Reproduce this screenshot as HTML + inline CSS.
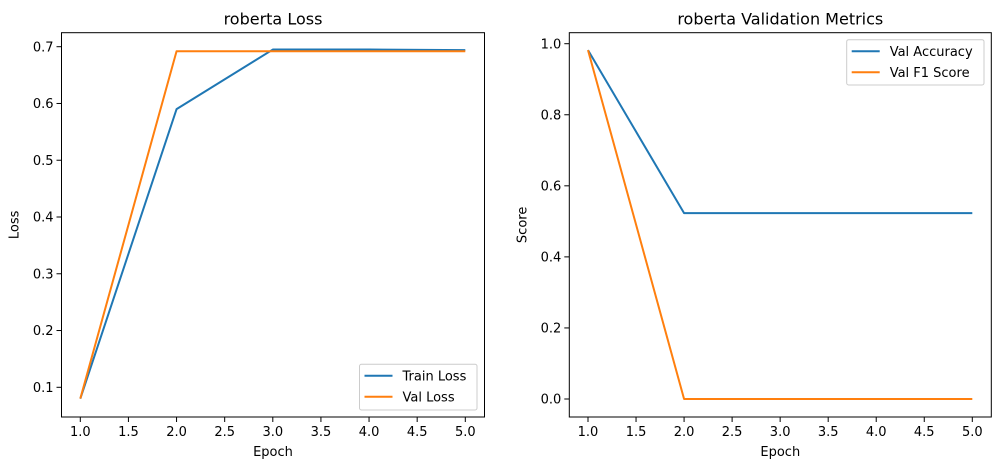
<!DOCTYPE html>
<html><head><meta charset="utf-8"><style>
body{margin:0;background:#fff;}
svg{display:block;font-family:"DejaVu Sans","Liberation Sans",sans-serif;}
</style></head><body>
<svg id="fig" width="1001" height="470" xmlns="http://www.w3.org/2000/svg"></svg>
<script>
const epochs=[1,2,3,4,5];
const trainLoss=[0.08,0.59,0.695,0.695,0.694];
const valLoss=[0.08,0.692,0.692,0.692,0.692];
const valAcc=[0.982,0.523,0.523,0.523,0.523];
const valF1=[0.982,0,0,0,0];
const xTicks=[1.0,1.5,2.0,2.5,3.0,3.5,4.0,4.5,5.0];
const lossTicks=[0.1,0.2,0.3,0.4,0.5,0.6,0.7];
const scoreTicks=[0.0,0.2,0.4,0.6,0.8,1.0];
const NS="http://www.w3.org/2000/svg";
const svg=document.getElementById('fig');
function mk(tag,attrs,parent){const e=document.createElementNS(NS,tag);for(const k in attrs)e.setAttribute(k,attrs[k]);(parent||svg).appendChild(e);return e;}
function panel(o){
  const g=mk('g',{});
  
  
  const sx=v=>o.x1px+(v-1)*(o.x5px-o.x1px)/4;
  const sy=v=>o.y0px+(v-o.yv0)*(o.y1px-o.y0px)/(o.yv1-o.yv0);
  xTicks.forEach(t=>{
    const x=sx(t);
    const l=mk('line',{x1:x,x2:x,y1:o.bottom,y2:o.bottom+5,stroke:'#000','stroke-width':1},g);
    
    const tx=mk('text',{x:x,y:o.bottom+19,'font-size':13,'text-anchor':'middle'},g);
    tx.textContent=t.toFixed(1);
    
  });
  o.yTicks.forEach(t=>{
    const y=sy(t);
    const l=mk('line',{x1:o.left-5,x2:o.left,y1:y,y2:y,stroke:'#000','stroke-width':1},g);
    
    const tx=mk('text',{x:o.left-8,y:y+4.7,'font-size':13,'text-anchor':'end'},g);
    tx.textContent=t.toFixed(1);
    
  });
  o.series.forEach(s=>{
    const p=mk('polyline',{points:epochs.map((e,i)=>sx(e)+','+sy(s.v[i])).join(' '),fill:'none',stroke:s.c,'stroke-width':2,'stroke-linejoin':'round'},g);
    
  });
  const r=mk('rect',{x:o.left,y:o.top,width:o.right-o.left,height:o.bottom-o.top,fill:'none',stroke:'#000','stroke-width':1},g);
  
  const t=mk('text',{x:(o.left+o.right)/2,y:o.top-8,'font-size':16,'text-anchor':'middle'},g);
  t.textContent=o.title;
  const xl=mk('text',{x:(o.left+o.right)/2,y:o.bottom+39,'font-size':13,'text-anchor':'middle'},g);
  xl.textContent='Epoch';
  const yx=o.left-43,yy=(o.top+o.bottom)/2;
  const yl=mk('text',{x:yx,y:yy,'font-size':13,'text-anchor':'middle',transform:`rotate(-90 ${yx} ${yy})`},g);
  yl.textContent=o.ylabel;
  const lg=mk('g',{},g);
  
  mk('rect',{x:o.lg.x,y:o.lg.y,width:o.lg.w,height:o.lg.h,rx:2,fill:'#fff','fill-opacity':0.8,stroke:'#ccc','stroke-width':1},lg);
  o.series.forEach((s,i)=>{
    const y=o.lg.y+11.5+i*21;
    const l=mk('line',{x1:o.lg.x+5,x2:o.lg.x+33,y1:y,y2:y,stroke:s.c,'stroke-width':2},lg);
    
    const tx=mk('text',{x:o.lg.x+43,y:y+4.7,'font-size':13},lg);
    tx.textContent=s.label;
  });
}
panel({name:'loss-chart',title:'roberta Loss',ylabel:'Loss',left:61.5,right:484.5,top:32.7,bottom:417,
  x1px:80.3,x5px:465.3,yv0:0.1,y0px:387.3,yv1:0.7,y1px:46.7,yTicks:lossTicks,
  series:[{n:'train-loss-line',label:'Train Loss',v:trainLoss,c:'#1f77b4'},{n:'val-loss-line',label:'Val Loss',v:valLoss,c:'#ff7f0e'}],
  lg:{x:359.5,y:364.3,w:117.5,h:45.7}});
panel({name:'metrics-chart',title:'roberta Validation Metrics',ylabel:'Score',left:569.3,right:991.3,top:32.7,bottom:417,
  x1px:588,x5px:972.3,yv0:0,y0px:399,yv1:1,y1px:43.7,yTicks:scoreTicks,
  series:[{n:'val-accuracy-line',label:'Val Accuracy',v:valAcc,c:'#1f77b4'},{n:'val-f1-line',label:'Val F1 Score',v:valF1,c:'#ff7f0e'}],
  lg:{x:846.7,y:39.7,w:137.3,h:45.3}});
</script>
</body></html>
